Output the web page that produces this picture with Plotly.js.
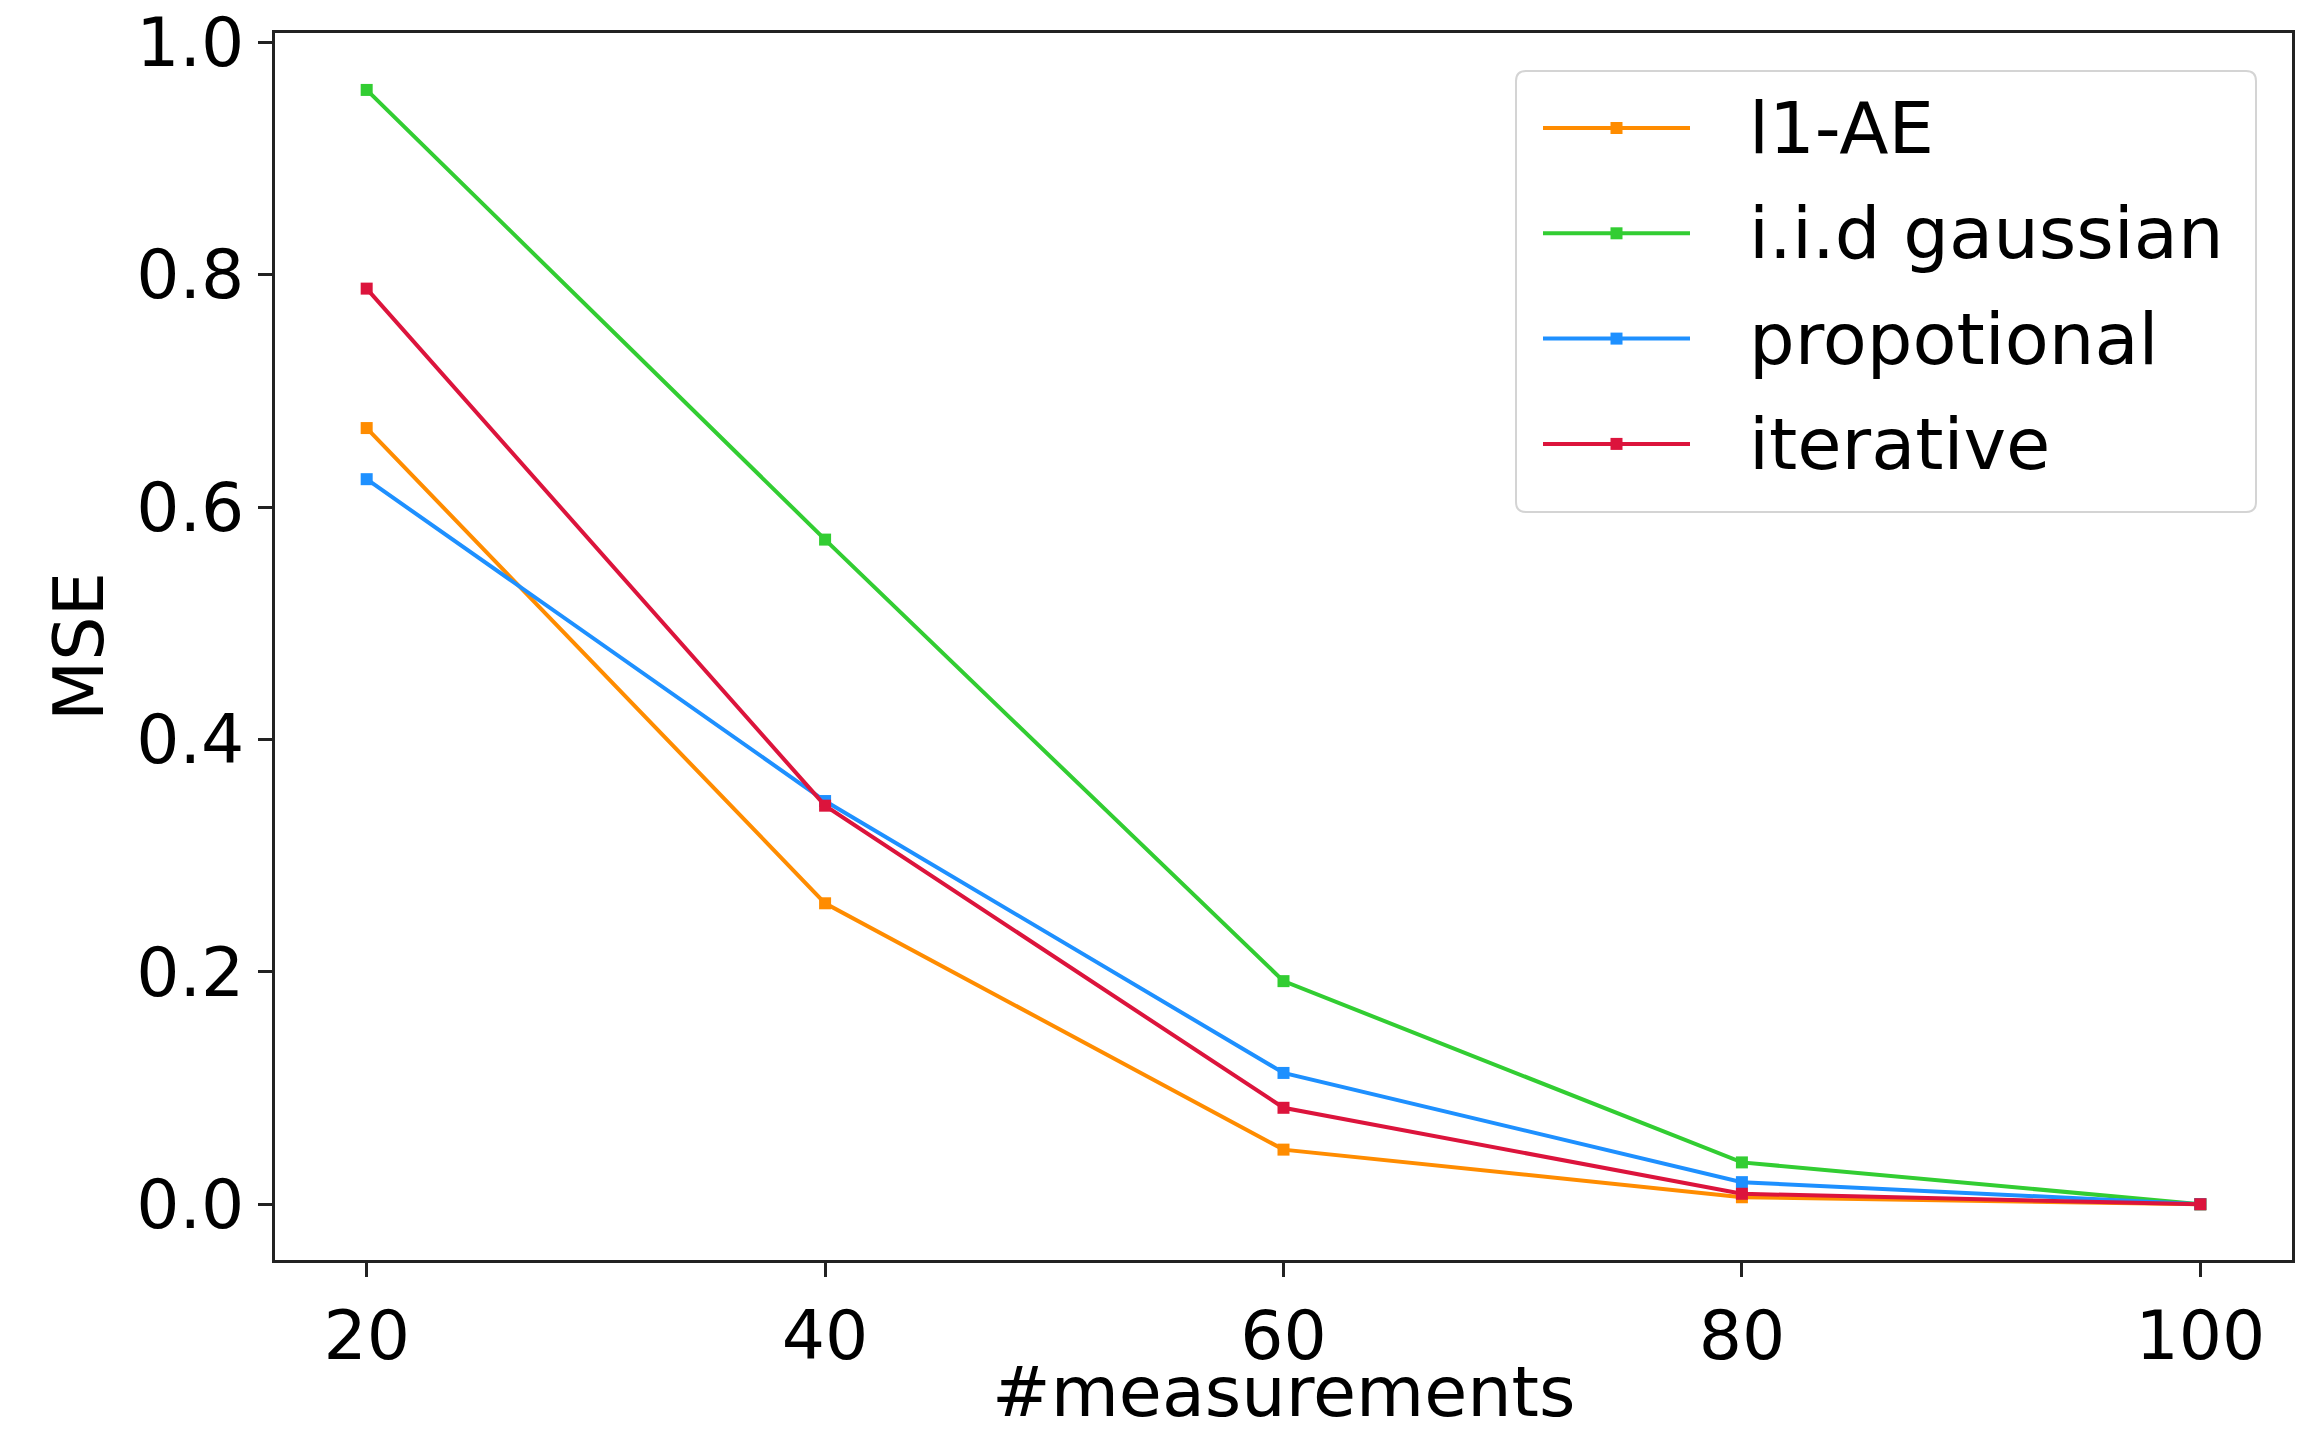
<!DOCTYPE html>
<html>
<head>
<meta charset="utf-8">
<script src="https://cdn.plot.ly/plotly-3.0.1.min.js"></script>
<style>html,body{margin:0;padding:0;background:#fff;}#chart{width:2315px;height:1435px;}</style>
</head>
<body>
<div id="chart"></div>
<script>
const measurements = [20, 40, 60, 80, 100];
const seriesNames = ["l1-AE", "i.i.d gaussian", "propotional", "iterative"];
const l1AE = [0.668, 0.259, 0.047, 0.006, 0.0];
const iidGaussian = [0.959, 0.572, 0.192, 0.036, 0.0];
const propotional = [0.624, 0.347, 0.113, 0.019, 0.0];
const iterative = [0.788, 0.343, 0.083, 0.009, 0.0];
const seriesValues = [l1AE, iidGaussian, propotional, iterative];
const seriesColors = ["#FF8C00", "#32CD32", "#1E90FF", "#DC143C"];
const xTicks = [20, 40, 60, 80, 100];
const yTicks = [0.0, 0.2, 0.4, 0.6, 0.8, 1.0];
const xTitle = "#measurements";
const yTitle = "MSE";

const FONT = "DejaVu Sans, sans-serif";
const W = 2315, H = 1435;
const M = {l: 275, r: 23, t: 33, b: 175};
const plotW = W - M.l - M.r, plotH = H - M.t - M.b;
const px = v => (v - M.l) / plotW;          // pixel x -> paper x
const py = v => (H - M.b - v) / plotH;      // pixel y -> paper y

const traces = seriesNames.map((name, i) => ({
  type: "scatter",
  mode: "lines+markers",
  name: name,
  x: measurements,
  y: seriesValues[i],
  line: {color: seriesColors[i], width: 4},
  marker: {color: seriesColors[i], symbol: "square", size: 12},
  showlegend: false
}));

// Matplotlib-style legend drawn in paper coordinates
const legBox = {x0: 1516, x1: 2256, y0: 71, y1: 512, r: 10};
const rowStart = 128, rowStep = 105.3;
const lineX0 = 1543, lineX1 = 1690, textX = 1747;
const shapes = [];
const annotations = [];
{
  const {x0, x1, y0, y1, r} = legBox;
  const X = v => px(v), Y = v => py(v);
  const rx = r / plotW, ry = r / plotH;
  const path = `M ${X(x0) + rx},${Y(y0)} L ${X(x1) - rx},${Y(y0)} Q ${X(x1)},${Y(y0)} ${X(x1)},${Y(y0) - ry} ` +
    `L ${X(x1)},${Y(y1) + ry} Q ${X(x1)},${Y(y1)} ${X(x1) - rx},${Y(y1)} L ${X(x0) + rx},${Y(y1)} ` +
    `Q ${X(x0)},${Y(y1)} ${X(x0)},${Y(y1) + ry} L ${X(x0)},${Y(y0) - ry} Q ${X(x0)},${Y(y0)} ${X(x0) + rx},${Y(y0)} Z`;
  shapes.push({type: "path", xref: "paper", yref: "paper", path: path,
    fillcolor: "rgba(255,255,255,0.85)", line: {color: "#d4d4d4", width: 2}, layer: "above"});
}
seriesNames.forEach((name, i) => {
  const rowY = rowStart + i * rowStep;
  const mid = (lineX0 + lineX1) / 2;
  shapes.push({type: "line", xref: "paper", yref: "paper",
    x0: px(lineX0), x1: px(lineX1), y0: py(rowY), y1: py(rowY),
    line: {color: seriesColors[i], width: 4}, layer: "above"});
  shapes.push({type: "rect", xref: "paper", yref: "paper",
    x0: px(mid - 6), x1: px(mid + 6), y0: py(rowY - 6), y1: py(rowY + 6),
    fillcolor: seriesColors[i], line: {width: 0}, layer: "above"});
  annotations.push({xref: "paper", yref: "paper", x: px(textX), y: py(rowY),
    xanchor: "left", yanchor: "middle", showarrow: false, text: name,
    font: {family: FONT, size: 72, color: "#000"}});
});

// x-axis title, near the bottom edge as in the reference
annotations.push({xref: "paper", yref: "paper", x: 0.5, y: py(H),
  xanchor: "center", yanchor: "bottom", showarrow: false, text: xTitle,
  font: {family: FONT, size: 70, color: "#000"}});

const axisCommon = {
  showgrid: false,
  zeroline: false,
  showline: true,
  mirror: true,
  linecolor: "#222",
  linewidth: 3,
  ticks: "outside",
  ticklen: 14,
  tickwidth: 3,
  tickcolor: "#222",
  tickfont: {family: FONT, size: 68, color: "#000"}
};

const layout = {
  width: W,
  height: H,
  paper_bgcolor: "#fff",
  plot_bgcolor: "#fff",
  margin: M,
  font: {family: FONT, color: "#000"},
  showlegend: false,
  xaxis: Object.assign({}, axisCommon, {
    range: [16, 104],
    tickvals: xTicks,
    ticktext: xTicks.map(String)
  }),
  yaxis: Object.assign({}, axisCommon, {
    range: [-0.048, 1.008],
    tickvals: yTicks,
    ticktext: yTicks.map(v => v.toFixed(1)),
    title: {text: yTitle, font: {family: FONT, size: 70, color: "#000"}, standoff: 10}
  }),
  shapes: shapes,
  annotations: annotations
};

Plotly.newPlot("chart", traces, layout, {displayModeBar: false, staticPlot: true});
</script>
</body>
</html>
